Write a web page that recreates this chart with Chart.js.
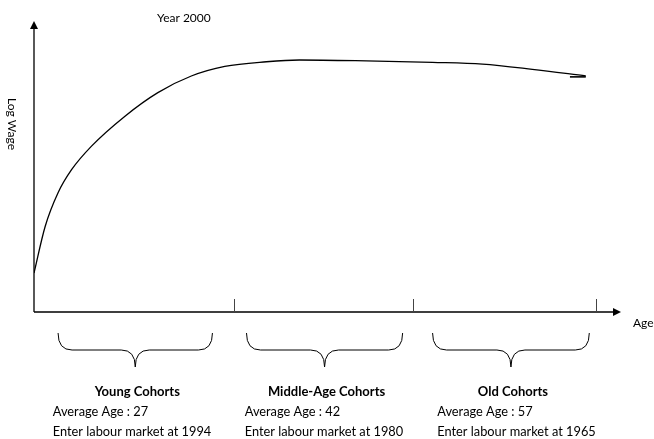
<!DOCTYPE html>
<html>
<head>
<meta charset="utf-8">
<script src="https://cdn.jsdelivr.net/npm/chart.js@4/dist/chart.umd.min.js"></script>
<style>
  html, body { margin: 0; padding: 0; background: #fff; }
  #wrap { width: 654px; height: 439px; position: relative; }
</style>
</head>
<body>
<div id="wrap"><canvas id="wageChart"></canvas></div>
<script>
// schematic age-wage profile, both axes in arbitrary 0-100 units
const ageVals  = [0, 1.9, 4.1, 6.4, 9.8, 15.5, 21.1, 26.8, 32.5, 39.6, 45.2, 56.6, 67.9, 76.4, 84.9, 94.0];
const wageVals = [13.4, 29.4, 41.0, 48.9, 57.0, 67.3, 75.4, 81.1, 84.4, 86.0, 86.6, 86.3, 85.8, 85.2, 83.4, 81.1];
const tailAge  = [91.3, 94.0];
const tailWage = [80.8, 80.8];

const cohortTicks = [34.0, 64.6, 95.7];
const braceFrom   = [4.1, 36.2, 67.9];
const braceTo     = [30.4, 62.8, 94.6];
const textLeft    = [3.2, 35.9, 68.7];
const cohortNames = ['Young Cohorts', 'Middle-Age Cohorts', 'Old Cohorts'];
const avgAges     = [27, 42, 57];
const entryYears  = [1994, 1980, 1965];

const FONT = 'Lato, "Open Sans", sans-serif';

const toPts = (xs, ys) => xs.map((x, i) => ({ x: x, y: ys[i] }));

function arrowHead(c, x, y, dir) {
  c.beginPath();
  if (dir === 'up') {
    c.moveTo(x, y); c.lineTo(x - 4, y + 8); c.lineTo(x + 4, y + 8);
  } else {
    c.moveTo(x, y); c.lineTo(x - 8, y - 4); c.lineTo(x - 8, y + 4);
  }
  c.closePath();
  c.fill();
}

function brace(c, x0, x1, top) {
  const mid = top + 17, tip = top + 34, r = 14;
  const cx = (x0 + x1) / 2;
  c.beginPath();
  c.moveTo(x0, top);
  c.quadraticCurveTo(x0, mid, x0 + r, mid);
  c.lineTo(cx - r, mid);
  c.quadraticCurveTo(cx, mid, cx, tip);
  c.quadraticCurveTo(cx, mid, cx + r, mid);
  c.lineTo(x1 - r, mid);
  c.quadraticCurveTo(x1, mid, x1, top);
  c.stroke();
}

const decor = {
  id: 'decor',
  afterDatasetsDraw(chart) {
    const c = chart.ctx;
    const xs = chart.scales.x, ys = chart.scales.y;
    const x0 = xs.getPixelForValue(0), y0 = ys.getPixelForValue(0);
    const xEnd = xs.getPixelForValue(100), yEnd = ys.getPixelForValue(100);
    c.save();
    c.strokeStyle = '#000';
    c.fillStyle = '#000';
    c.lineWidth = 1.3;
    // axes
    c.beginPath();
    c.moveTo(x0, y0); c.lineTo(x0, yEnd + 6);
    c.moveTo(x0, y0); c.lineTo(xEnd - 6, y0);
    c.stroke();
    arrowHead(c, x0, yEnd, 'up');
    arrowHead(c, xEnd, y0, 'right');
    // cohort boundary ticks
    c.lineWidth = 1;
    c.strokeStyle = '#444';
    cohortTicks.forEach(v => {
      const px = Math.round(xs.getPixelForValue(v)) + 0.5;
      c.beginPath(); c.moveTo(px, y0); c.lineTo(px, y0 - 13); c.stroke();
    });
    // braces
    c.strokeStyle = '#000';
    braceFrom.forEach((v, i) => {
      brace(c, xs.getPixelForValue(v), xs.getPixelForValue(braceTo[i]), y0 + 21);
    });
    // texts
    c.textBaseline = 'middle';
    c.font = '12px ' + FONT;
    c.textAlign = 'left';
    c.fillText('Year 2000', 157, 18);
    c.fillText('Age', 633, y0 + 11);
    c.save();
    c.translate(12, 124);
    c.rotate(Math.PI / 2);
    c.textAlign = 'center';
    c.fillText('Log Wage', 0, 0);
    c.restore();
    cohortNames.forEach((name, i) => {
      const cx = (xs.getPixelForValue(braceFrom[i]) + xs.getPixelForValue(braceTo[i])) / 2;
      c.font = 'bold 13px ' + FONT;
      c.textAlign = 'center';
      c.fillText(name, cx + 2, 392);
      c.font = '12.8px ' + FONT;
      c.textAlign = 'left';
      const lx = xs.getPixelForValue(textLeft[i]);
      c.fillText('Average Age : ' + avgAges[i], lx, 412);
      c.fillText('Enter labour market at ' + entryYears[i], lx, 432);
    });
    c.restore();
  }
};

const ctx = document.getElementById('wageChart').getContext('2d');
const chart = new Chart(ctx, {
  type: 'line',
  data: {
    datasets: [{
      label: 'Log wage',
      data: toPts(ageVals, wageVals),
      borderColor: '#000',
      borderWidth: 1.3,
      pointRadius: 0,
      cubicInterpolationMode: 'monotone',
      fill: false
    }, {
      label: 'tail',
      data: toPts(tailAge, tailWage),
      borderColor: '#000',
      borderWidth: 1.6,
      pointRadius: 0,
      fill: false
    }]
  },
  options: {
    responsive: true,
    maintainAspectRatio: false,
    animation: false,
    layout: { padding: { left: 34, right: 33, top: 21, bottom: 127 } },
    plugins: { legend: { display: false }, tooltip: { enabled: false } },
    scales: {
      x: { type: 'linear', min: 0, max: 100, display: false },
      y: { type: 'linear', min: 0, max: 100, display: false }
    }
  },
  plugins: [decor]
});
</script>
</body>
</html>
